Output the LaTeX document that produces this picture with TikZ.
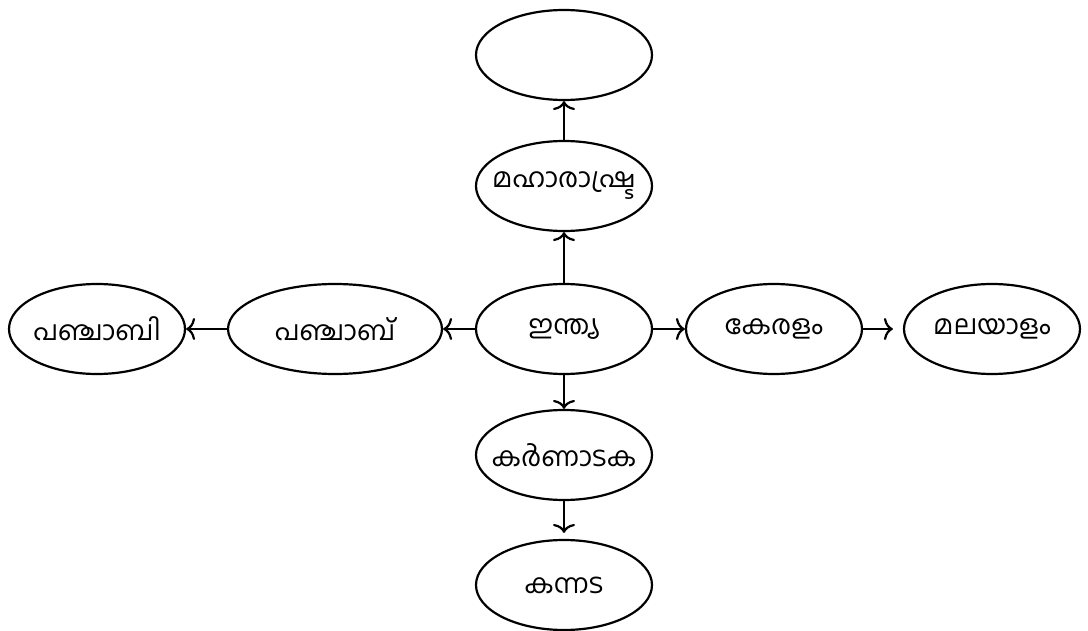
\documentclass[tikz,border=0pt]{standalone}
\usepackage{fontspec}
\newfontfamily\mlfont[Script=Malayalam]{Hind Kochi}
\usetikzlibrary{shapes.geometric,arrows.meta}
\begin{document}
\begin{tikzpicture}[x=1pt,y=-1pt,
  lbl/.style={inner sep=0pt,font=\mlfont\fontsize{27}{32}\selectfont},
  ov/.style={draw,line width=2.2pt,ellipse,minimum width=176pt,minimum height=90pt,inner sep=0pt,label={[lbl]center:#1}},
  ov/.default={},
  arr/.style={line width=2.2pt,-{To[length=9pt,width=22pt,line width=2.2pt]}}]
\useasboundingbox (0,0) rectangle (1088,631);
\node[ov] (top) at (564,55) {};
\node[ov={മഹാരാഷ്ട്ര}] (maha) at (564,186) {};
\node[ov={ഇന്ത്യ}] (ind) at (564,329) {};
\node[ov={പഞ്ചാബ്},minimum width=214pt] (pjb) at (335,329) {};
\node[ov={പഞ്ചാബി}] (pji) at (97,329) {};
\node[ov={കേരളം}] (ker) at (774,329) {};
\node[ov={മലയാളം}] (mal) at (992,329) {};
\node[ov={കർണാടക}] (kar) at (564,455) {};
\node[ov={കന്നട}] (kan) at (564,585) {};
\draw[arr] (ind) -- (maha);
\draw[arr] (maha) -- (top);
\draw[arr] (ind) -- (pjb);
\draw[arr] (pjb) -- (pji);
\draw[arr] (ind) -- (ker);
\draw[arr,shorten >=10pt] (ker) -- (mal);
\draw[arr] (ind) -- (kar);
\draw[arr,shorten >=6pt] (kar) -- (kan);
\end{tikzpicture}
\end{document}
